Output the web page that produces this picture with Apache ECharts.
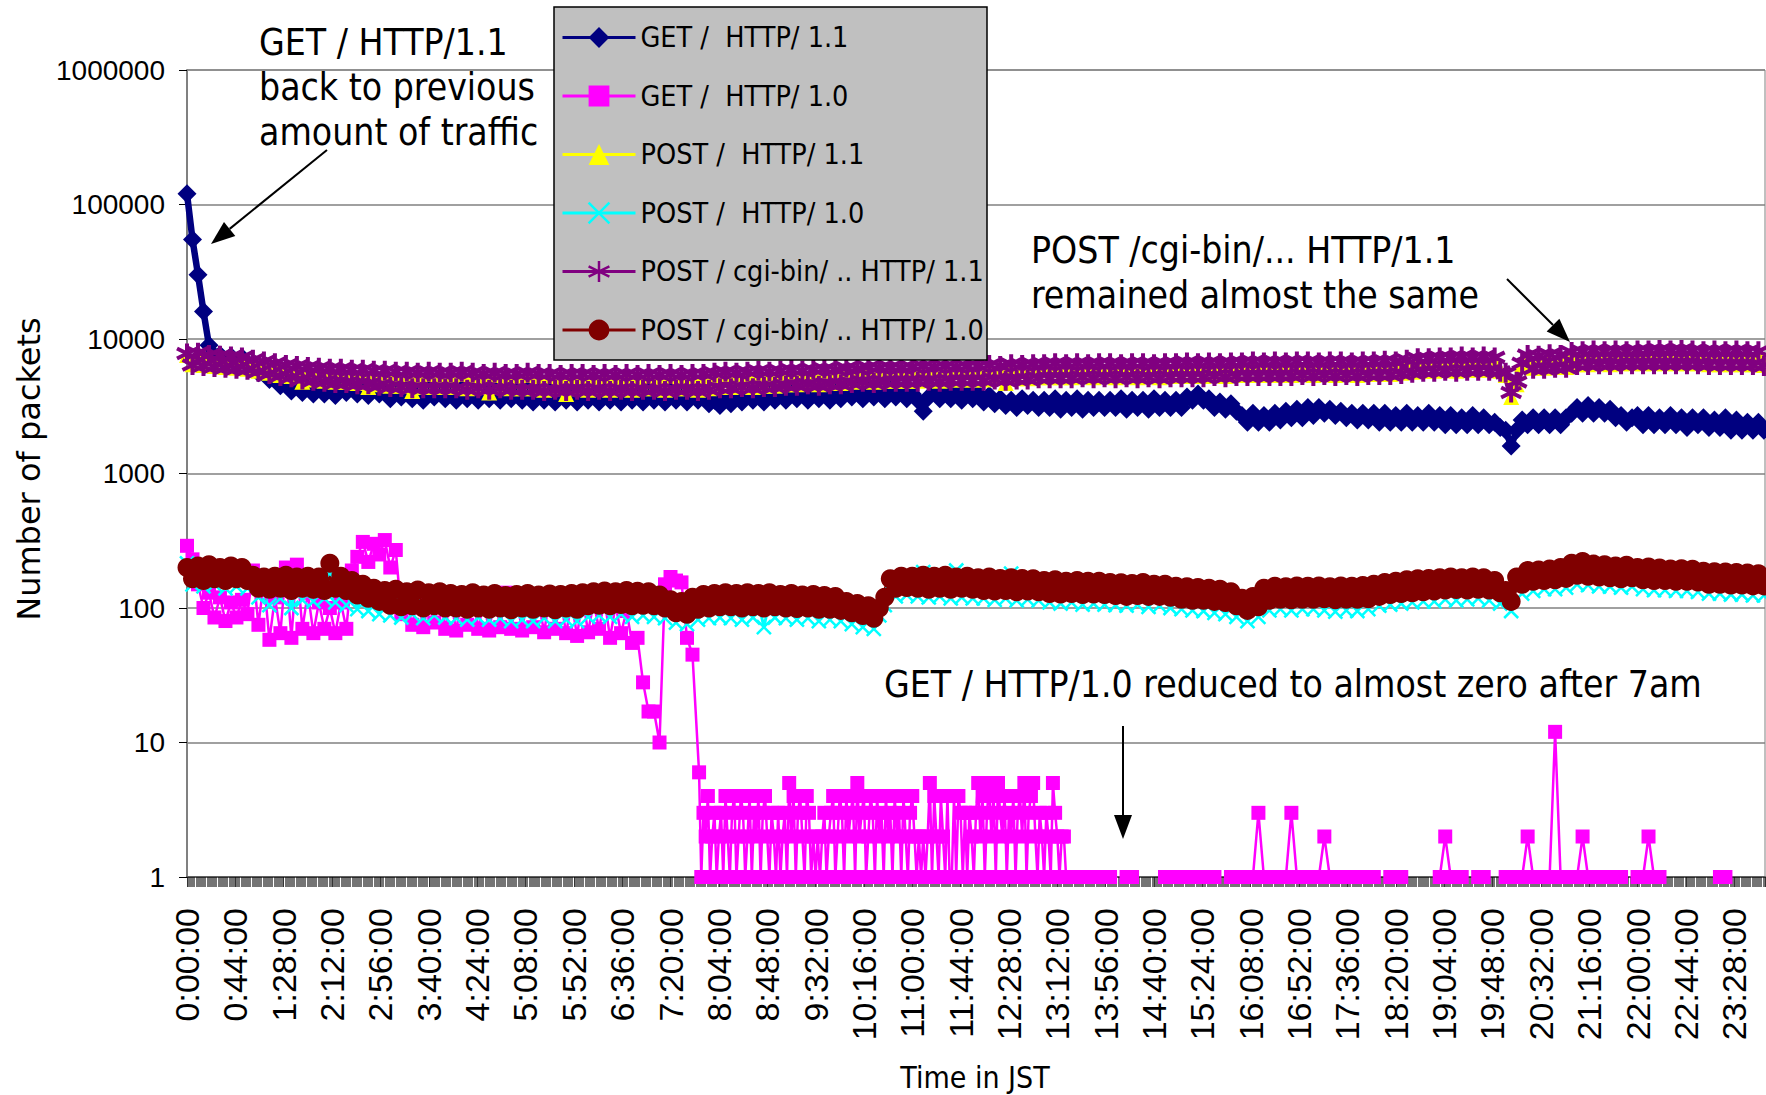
<!DOCTYPE html>
<html><head><meta charset="utf-8">
<script src="https://cdn.jsdelivr.net/npm/echarts@6/dist/echarts.min.js"></script>
<style>html,body{margin:0;padding:0;background:#fff}#chart{width:1766px;height:1095px}</style>
</head><body><div id="chart"></div>
<script>
// ---------------- data (minutes after 0:00 JST) ----------------
const STEP_MIN = 5; // main series sampled every 5 minutes, 0:00 .. 23:55
const seriesNames = [
  'GET /  HTTP/ 1.1', 'GET /  HTTP/ 1.0', 'POST /  HTTP/ 1.1',
  'POST /  HTTP/ 1.0', 'POST / cgi-bin/ .. HTTP/ 1.1', 'POST / cgi-bin/ .. HTTP/ 1.0'
];
const getHttp11 = [
120000,55000,30000,16000,9000,7500,7600,6600,7400,6500,7300,6400,
6400,5600,6000,5000,5200,4500,4700,4100,4600,4000,4500,3900,
4500,3900,4600,3800,4400,4000,4700,3900,4500,3800,4400,3900,
4200,3600,4300,3700,4100,3600,4200,3500,4100,3700,4200,3600,
4100,3500,4200,3600,4000,3500,4100,3600,4200,3500,4000,3600,
4000,3500,4100,3400,3900,3500,4000,3400,3900,3500,3800,3400,
3900,3500,4000,3400,3900,3500,4000,3400,3800,3500,3900,3400,
4000,3500,3900,3400,4000,3500,3800,3400,3900,3500,3700,3300,
3500,3200,3600,3300,3800,3400,3900,3500,3800,3400,3900,3500,
4000,3500,4100,3600,4000,3500,4100,3600,4000,3500,4100,3600,
4100,3700,4200,3600,4200,3700,4100,3600,4200,3700,4100,3600,
3900,3500,2900,3700,4000,3600,4100,3600,4000,3500,4100,3600,
3900,3400,3800,3300,3600,3200,3500,3100,3600,3200,3500,3100,
3500,3100,3600,3000,3500,3100,3600,3000,3500,3100,3500,3100,
3500,3100,3600,3000,3500,3100,3500,3000,3600,3100,3500,3100,
3500,3100,3700,3500,3900,3500,3600,3100,3400,3000,3300,2900,
2700,2400,2800,2400,2700,2400,2800,2500,2900,2600,3000,2600,
3100,2700,3100,2800,3000,2700,2900,2600,2800,2500,2800,2500,
2800,2400,2800,2400,2700,2400,2800,2400,2700,2400,2800,2400,
2700,2300,2700,2300,2600,2300,2700,2300,2600,2300,2400,2200,
2100,1600,2100,2500,2300,2600,2300,2600,2300,2600,2300,2600,
2800,3100,2800,3200,2800,3100,2800,3000,2600,2700,2400,2600,
2700,2300,2700,2300,2600,2300,2700,2300,2600,2200,2600,2300,
2600,2200,2500,2200,2600,2100,2500,2100,2400,2100,2400,2100];
// GET / HTTP/1.0 : three pieces (0:00-7:40 every 5 min, 7:46-13:18 every 2 min, 13:20-23:55 every 5 min)
const getHttp10Early = [
290,230,150,100,130,85,120,80,110,85,115,90,
190,75,160,58,120,65,200,60,210,70,130,65,
110,70,100,65,110,70,190,240,310,220,300,250,
320,200,270,90,110,75,120,72,110,78,130,70,
115,68,120,75,125,70,110,68,120,72,130,70,
115,68,125,72,110,66,120,70,115,65,110,62,
120,66,110,70,115,60,105,65,95,55,60,28,
17,17,10,150,170,160,155,60,45];
const getHttp10Flicker = [
6,1,3,2,4,1, 2,3,1,2,3,1,
4,2,1,3,4,1,2,4,3,1,2,4,1,3,2,4,1,3,4,2,1,
3,2,1,3,1,2,3,1,5,2, 4,1,3,4,2,1,4,3,1, 2,1,2,1,2,3,1,2,3,
4,1,2,4,3,1,4, 2,3, 4,1,5,2,3,4,1,2,4,3,1,4,2,3,1,4,2,3,
1,4,2,3,1,4,2,1,3,4,2,1, 2,1,2,1,2,5,1, 4,2,1,4,2,1,4,1,1,4,1,4,
3,1,3,1,3,2,1, 3,5,2,4,1,3,5,2,4,1,5,3,2,4,1,3,2,4,1,3,
4,2,5,1,3,4,5,2, 1,3,2,1,3,2,1,5,3, 2,1,2,2];
const getHttp10Tail = [
1,1,1,1,1,1,1,1,1, null,null,1,1,null,null,null,null,null,
1,1,1,1,1,1,1,1,1,1, null,null,
1,1,1,1,1,3,1,1,1,1,1,3,1,1,1,1,1,2,1,1,1,1,1,1,1,1,1,
null,null, 1,1,1, null,null,null,null,null,null,
1,2,1,1,1, null,null, 1,1, null,null,null,
1,1,1,1,2,1, null, 1,1,12,1,1,1,1,2,1, null,
1,1,1,1,1, null,null, 1,1,2,1,1,
null,null,null,null,null,null,null,null,null,null, 1,1,
null,null,null,null,null,null,null];
const getHttp10Start = {early: 0, flicker: 466, tail: 800};
const getHttp10Step = {early: 5, flicker: 2, tail: 5};
const postHttp11 = [
7600,6500,7700,6400,7400,6300,7300,6200,7200,6100,7100,6000,
6800,5800,6600,5600,6400,5400,6200,5300,6100,4800,6000,5000,
5900,4900,5800,4800,5800,4800,5700,4700,5700,4400,5600,4600,
5600,4500,5500,4500,5500,4100,5400,4400,5500,4400,5400,4400,
5400,4400,5500,4300,5400,4400,5300,4000,5400,4400,5300,4300,
5300,4300,5400,4300,5300,4200,5300,4300,5200,3900,5300,4300,
5300,4200,5200,4300,5300,4200,5200,4300,5300,4200,5200,4300,
5300,4300,5200,4200,5300,4300,5200,4300,5300,4200,5300,4300,
5400,4400,5500,4400,5400,4500,5500,4400,5600,4500,5500,4500,
5600,4600,5700,4600,5600,4700,5700,4600,5800,4700,5700,4700,
5900,4800,5800,4900,6000,4800,5900,4900,6000,4900,5900,4900,
6000,4900,6100,5000,6000,4900,6100,5000,6000,5000,6100,5000,
6100,5000,6200,5100,6100,4700,6300,5100,6200,5100,6300,5200,
6300,5200,6400,5200,6300,5200,6400,5300,6300,5200,6400,5300,
6400,5200,6300,5300,6400,5200,6400,5300,6300,5200,6400,5300,
6400,5300,6500,5300,6400,5300,6500,5400,6400,5300,6500,5400,
6500,5400,6600,5400,6500,5400,6600,5400,6500,5400,6600,5500,
6600,5400,6500,5500,6600,5400,6600,5500,6500,5400,6600,5500,
6600,5500,6700,5500,6600,5600,6800,5700,7000,5800,7000,5800,
7100,5900,7100,5800,7200,5900,7100,5900,7200,5900,7100,5800,
5400,3700,4600,6500,7400,6100,7300,6100,7500,6200,7400,6200,
7800,6500,7900,6500,8000,6600,8200,6500,8000,6600,8300,6600,
8000,6600,8000,6600,8100,6600,8000,6600,8100,6600,8000,6600,
7900,6500,8000,6500,7900,6500,8000,6500,7900,6500,7900,6400];
const postHttp10 = [
215,150,200,145,190,150,185,140,195,145,188,140,
165,120,160,105,155,118,165,100,150,115,158,112,
155,118,180,110,150,105,140,98,128,95,122,90,
120,88,122,85,115,90,118,84,112,88,115,85,
112,84,110,82,115,85,108,82,112,84,108,80,
110,82,112,80,108,84,110,80,112,82,110,80,
115,86,118,88,120,86,118,90,122,86,118,88,
115,86,110,84,100,78,98,76,106,82,110,84,
112,85,115,84,112,82,115,85,110,72,112,85,
110,84,112,82,108,84,110,80,108,82,106,80,
98,76,94,72,90,70,88,105,150,122,158,125,
160,122,185,120,158,122,160,118,190,120,158,118,
155,118,158,115,152,118,180,114,152,116,150,114,
146,110,148,108,144,110,146,106,144,108,146,106,
142,105,140,104,138,106,142,102,136,104,136,100,
132,98,130,96,128,95,126,92,124,90,118,86,
106,80,110,86,128,96,132,98,130,96,134,98,
132,98,134,96,130,94,132,96,130,95,134,98,
138,104,142,106,146,108,150,110,152,112,155,112,
156,116,158,114,156,116,158,118,156,114,146,108,
122,95,155,128,175,134,178,138,182,138,186,142,
200,150,215,148,198,145,196,144,190,142,194,144,
186,138,188,136,184,136,182,134,182,134,180,132,
175,128,172,128,172,126,170,126,168,124,166,124];
const postCgiHttp11 = [
7800,6400,7900,6300,7600,6200,7500,6100,7400,6000,7300,5900,
7000,5700,6800,5500,6600,5300,6400,5200,6300,5000,6200,4900,
6100,4800,6000,4700,6000,4700,5900,4600,5900,4600,5800,4500,
5800,4400,5700,4400,5700,4300,5600,4300,5700,4300,5600,4300,
5600,4300,5700,4200,5600,4300,5500,4200,5600,4300,5500,4200,
5500,4200,5600,4200,5500,4100,5500,4200,5400,4100,5500,4200,
5500,4100,5400,4200,5500,4100,5400,4200,5500,4100,5400,4200,
5500,4200,5400,4100,5500,4200,5400,4200,5500,4100,5500,4200,
5600,4300,5700,4300,5600,4400,5700,4300,5800,4400,5700,4400,
5800,4500,5900,4500,5800,4600,5900,4500,6000,4600,5900,4600,
6100,4700,6000,4800,6200,4700,6100,4800,6200,4800,6100,4800,
6200,4800,6300,4900,6200,4800,6300,4900,6200,4900,6300,4900,
6300,4900,6400,5000,6300,4900,6500,5000,6400,5000,6500,5100,
6500,5100,6600,5100,6500,5100,6600,5200,6500,5100,6600,5200,
6600,5100,6500,5200,6600,5100,6600,5200,6500,5100,6600,5200,
6600,5200,6700,5200,6600,5200,6700,5300,6600,5200,6700,5300,
6700,5300,6800,5300,6700,5300,6800,5300,6700,5300,6800,5400,
6800,5300,6700,5400,6800,5300,6800,5400,6700,5300,6800,5400,
6800,5400,6900,5400,6800,5500,7000,5600,7200,5700,7200,5700,
7300,5800,7300,5700,7400,5800,7300,5800,7400,5800,7300,5700,
5600,4000,4800,6600,7600,6000,7500,6000,7700,6100,7600,6100,
8000,6400,8100,6400,8200,6500,8100,6400,8200,6500,8100,6500,
8200,6500,8200,6500,8300,6500,8200,6500,8300,6500,8200,6500,
8100,6400,8200,6400,8100,6400,8200,6400,8100,6400,8100,6300];
const postCgiHttp10 = [
200,165,205,160,210,165,200,160,205,165,200,160,
175,140,170,138,172,140,175,135,170,140,172,138,
170,135,215,140,172,135,160,125,150,118,140,112,
135,105,138,102,132,104,136,100,130,104,132,100,
128,100,126,98,130,100,125,98,128,100,124,97,
126,100,128,98,125,100,127,97,126,100,128,98,
130,104,132,105,134,104,132,106,135,104,133,105,
132,104,125,100,115,92,112,90,120,98,126,100,
128,102,130,102,128,100,130,102,128,100,130,102,
126,100,128,99,125,100,126,98,124,98,122,96,
112,92,108,88,104,84,100,120,165,140,172,142,
172,140,175,138,172,140,175,138,170,140,172,138,
168,135,170,134,166,135,168,132,166,134,165,132,
160,128,162,127,158,128,160,126,158,127,158,126,
155,124,154,122,152,124,155,122,150,122,150,120,
145,116,144,114,142,114,140,112,138,110,132,104,
118,96,122,102,140,114,145,116,144,115,146,116,
145,116,146,117,144,115,146,116,145,116,147,117,
150,122,155,126,158,128,162,130,165,132,166,134,
168,136,170,137,168,136,170,138,168,136,160,130,
135,112,170,150,190,158,192,160,195,162,200,166,
215,175,222,172,212,170,210,168,205,165,208,168,
200,162,202,160,198,160,195,158,196,158,194,156,
188,150,186,150,185,148,184,148,182,146,180,146];

// ---------------- helpers ----------------
const pairs = (arr, start, step) => arr.map((v, i) => [start + i * step, v]);
const getHttp10 = [].concat(
  pairs(getHttp10Early, getHttp10Start.early, getHttp10Step.early),
  pairs(getHttp10Flicker, getHttp10Start.flicker, getHttp10Step.flicker),
  pairs(getHttp10Tail, getHttp10Start.tail, getHttp10Step.tail)
);
const fmtTime = m => Math.floor(m / 60) + ':' + String(Math.round(m % 60)).padStart(2, '0') + ':00';

const COND = '"DejaVu Sans Condensed", "DejaVu Sans", sans-serif';
const ARIAL = '"Liberation Sans", Arial, sans-serif';

const xSym = 'path://M0,0L10,10M10,0L0,10';
const starSym = 'path://M5,0L5,10M0.7,2.5L9.3,7.5M0.7,7.5L9.3,2.5';

function mk(name, data, color, symbol, size, lineW, stroke) {
  const s = {
    name, type: 'line', data, symbol, symbolSize: size, connectNulls: false,
    lineStyle: {color, width: lineW}, itemStyle: {color},
    silent: true, animation: false, emphasis: {disabled: true}
  };
  if (stroke) s.itemStyle = {color, borderColor: color, borderWidth: stroke};
  return s;
}

function arrow(x1, y1, x2, y2) {
  const L = 24, W = 9;
  const dx = x2 - x1, dy = y2 - y1, len = Math.hypot(dx, dy);
  const ux = dx / len, uy = dy / len;
  const bx = x2 - ux * L, by = y2 - uy * L;
  return [
    {type: 'line', z: 10, shape: {x1, y1, x2: bx, y2: by}, style: {stroke: '#000', lineWidth: 2}},
    {type: 'polygon', z: 10, shape: {points: [[x2, y2], [bx - uy * W, by + ux * W], [bx + uy * W, by - ux * W]]}, style: {fill: '#000'}}
  ];
}
function label(text, x, y, size, family) {
  return {type: 'text', z: 10, x, y, style: {text, fontSize: size, fontFamily: family || COND, fill: '#000',
    textAlign: 'left', verticalAlign: 'middle', textVerticalAlign: 'middle'}};
}

const chart = echarts.init(document.getElementById('chart'), null, {renderer: 'svg'});
chart.setOption({
  animation: false,
  backgroundColor: '#fff',
  grid: {left: 187, right: 1, top: 70, bottom: 218, show: true, borderColor: '#808080', borderWidth: 1, backgroundColor: 'transparent'},
  xAxis: {
    type: 'value', min: 0, max: 1436, interval: 44,
    axisLine: {show: true, onZero: false, lineStyle: {color: '#606060', width: 2}},
    axisTick: {show: true, length: 10, lineStyle: {color: '#000', width: 0.8}},
    minorTick: {show: true, splitNumber: 44, length: 10, lineStyle: {color: '#000', width: 0.55}},
    splitLine: {show: false},
    axisLabel: {rotate: 90, margin: 31, fontFamily: ARIAL, fontSize: 34, color: '#000',
      showMaxLabel: false, showMinLabel: true, formatter: fmtTime}
  },
  yAxis: {
    type: 'log', logBase: 10, min: 1, max: 1000000,
    axisLine: {show: true, lineStyle: {color: '#808080', width: 2}},
    axisTick: {show: true, length: 8, lineStyle: {color: '#000', width: 1}},
    splitLine: {show: true, lineStyle: {color: '#808080', width: 1.5}},
    minorTick: {show: false}, minorSplitLine: {show: false},
    axisLabel: {margin: 22, fontFamily: ARIAL, fontSize: 28, color: '#000', formatter: v => String(Math.round(v))}
  },
  legend: {
    orient: 'vertical', left: 561, top: 23, padding: 0, itemWidth: 73, itemHeight: 26, itemGap: 29.5,
    selectedMode: false, z: 12,
    lineStyle: {width: 3},
    itemStyle: {borderWidth: 2.5},
    textStyle: {fontFamily: COND, fontSize: 28.5, color: '#000'},
    data: seriesNames
  },
  graphic: [
    {type: 'rect', z: 11, shape: {x: 554, y: 7, width: 433, height: 353}, style: {fill: '#c0c0c0', stroke: '#000', lineWidth: 1.5}},
    label('GET / HTTP/1.1', 259, 42, 37),
    label('back to previous', 259, 87, 37),
    label('amount of traffic', 259, 132, 37),
    label('POST /cgi-bin/... HTTP/1.1', 1031, 250, 37),
    label('remained almost the same', 1031, 295, 37),
    label('GET / HTTP/1.0 reduced to almost zero after 7am', 884, 684, 37),
    ...arrow(327, 150, 211, 244),
    ...arrow(1507, 279, 1570, 342),
    ...arrow(1123, 726, 1123, 839),
    {type: 'text', z: 10, x: 29, y: 469, rotation: Math.PI / 2,
      style: {text: 'Number of packets', fontSize: 32, fontFamily: '"DejaVu Sans", sans-serif', fill: '#000',
        textAlign: 'center', verticalAlign: 'middle', textVerticalAlign: 'middle'}},
    {type: 'text', z: 10, x: 975, y: 1077,
      style: {text: 'Time in JST', fontSize: 30, fontFamily: COND, fill: '#000',
        textAlign: 'center', verticalAlign: 'middle', textVerticalAlign: 'middle'}}
  ],
  series: [
    mk(seriesNames[0], pairs(getHttp11, 0, STEP_MIN), '#000080', 'diamond', 19, 6.5),
    mk(seriesNames[1], getHttp10, '#ff00ff', 'rect', 14, 2.5),
    mk(seriesNames[2], pairs(postHttp11, 0, STEP_MIN), '#ffff00', 'triangle', 16, 4),
    mk(seriesNames[3], pairs(postHttp10, 0, STEP_MIN), '#00ffff', xSym, 14, 3, 2.5),
    mk(seriesNames[4], pairs(postCgiHttp11, 0, STEP_MIN), '#800080', starSym, 20, 8, 4),
    mk(seriesNames[5], pairs(postCgiHttp10, 0, STEP_MIN), '#800000', 'circle', 19, 7)
  ]
});
</script></body></html>
